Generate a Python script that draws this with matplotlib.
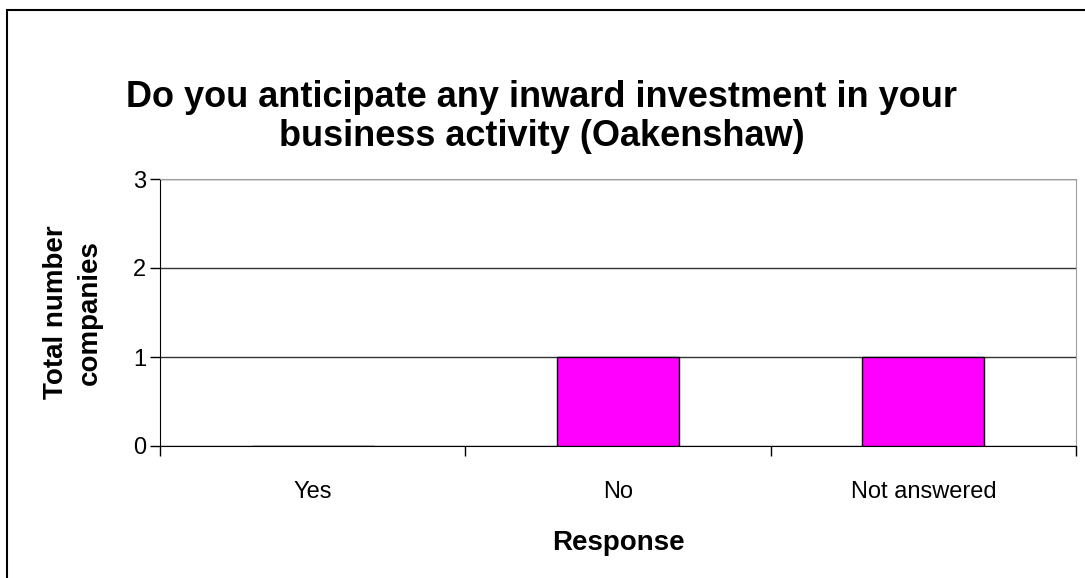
import matplotlib.pyplot as plt
from matplotlib.patches import Rectangle

# survey answers
categories = ['Yes', 'No', 'Not answered']
counts = [0, 1, 1]
title = 'Do you anticipate any inward investment in your\nbusiness activity (Oakenshaw)'

plt.rcParams['font.family'] = ['Liberation Sans', 'DejaVu Sans']

W, H = 1085, 578
fig = plt.figure(figsize=(W / 100, H / 100), dpi=100)

# outer chart frame (cropped at right/bottom in the original)
fig.patches.append(Rectangle((7 / W, -0.1), 1.2, 1 - 10 / H + 0.1, transform=fig.transFigure,
                             fill=False, edgecolor='black', linewidth=1.5))

ax = fig.add_axes([160 / W, 1 - 446 / H, (1076 - 160) / W, (446 - 179) / H])

x = range(len(categories))
ax.bar(x, counts, width=0.4, color='#FF00FF', edgecolor='black', linewidth=1, zorder=3)

ax.set_xlim(-0.5, len(categories) - 0.5)
ax.set_ylim(0, 3)
ax.set_yticks([0, 1, 2, 3])
ax.yaxis.grid(True, color='#333333', linewidth=1)
ax.set_axisbelow(True)

ax.set_xticks(list(x))
ax.set_xticklabels(categories, fontsize=17)
ax.set_xticks([i - 0.5 for i in range(len(categories) + 1)], minor=True)
ax.tick_params(axis='x', which='major', length=0, pad=25)
ax.tick_params(axis='x', which='minor', length=7, width=1, direction='out')
ax.tick_params(axis='y', length=7, width=1, labelsize=17, pad=3)

for s in ['top', 'right']:
    ax.spines[s].set_color('#a0a0a0')
for s in ['left', 'bottom']:
    ax.spines[s].set_color('black')

ax.set_xlabel('Response', fontsize=20, fontweight='bold', labelpad=20)
ax.set_ylabel('Total number\ncompanies', fontsize=20, fontweight='bold', labelpad=22, linespacing=1.35)

fig.text(542 / W, 1 - 117 / H, title, ha='center', va='center', fontsize=26,
         fontweight='bold', linespacing=1.15)

fig.savefig('out.png', dpi=100)
